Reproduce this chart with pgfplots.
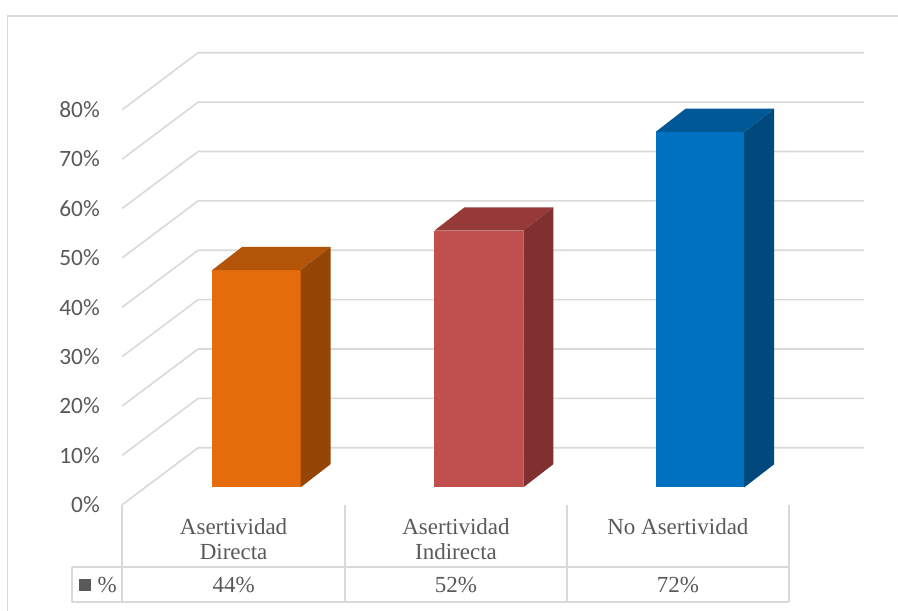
\documentclass[border=0pt]{standalone}
\usepackage{fontspec}
\setmainfont{Liberation Serif}
\newfontfamily\carlito{Carlito}
\usepackage{pgfplots}
\pgfplotsset{compat=1.18}
\definecolor{gridc}{RGB}{217,217,217}
\definecolor{txt}{RGB}{89,89,89}
\definecolor{orF}{RGB}{228,108,10}
\definecolor{orT}{RGB}{179,85,8}
\definecolor{orS}{RGB}{149,69,5}
\definecolor{reF}{RGB}{192,80,77}
\definecolor{reT}{RGB}{150,58,56}
\definecolor{reS}{RGB}{127,48,47}
\definecolor{blF}{RGB}{0,112,192}
\definecolor{blT}{RGB}{0,88,150}
\definecolor{blS}{RGB}{0,73,125}
\begin{document}
\begin{tikzpicture}
\begin{axis}[
  x=0.5pt, y=2.47pt,
  xmin=0, xmax=898, ymin=-24.96, ymax=98.72,
  axis line style={draw=none},
  no markers,
  xtick=\empty,
  ytick={-3.5,6.5,16.5,26.5,36.5,46.5,56.5,66.5,76.5},
  yticklabels={0\%,10\%,20\%,30\%,40\%,50\%,60\%,70\%,80\%},
  major tick length=0pt,
  yticklabel style={anchor=east, inner xsep=0pt, xshift=50pt, font=\carlito\fontsize{11.7}{14}\selectfont, text=txt},
  /pgf/number format/assume math mode=true,
]
% outer border
\addplot[gridc, line width=0.7pt] coordinates {(7.5,-30) (7.5,95.49) (905,95.49)};
% grid lines (side wall + back wall)
\foreach \k in {0,10,20,30,40,50,60,70,80}{
  \edef\temp{\noexpand\addplot[gridc, line width=0.8pt] coordinates {(122,\k-3.5) (198,\k+8.04) (864,\k+8.04)};}
  \temp
}
% bars: front faces from the values
\addplot[ybar, bar width=88.5, bar shift=0pt, fill=orF, draw=none] coordinates {(256.2,44)};
\addplot[ybar, bar width=89, bar shift=0pt, fill=reF, draw=none] coordinates {(478.8,52)};
\addplot[ybar, bar width=88.6, bar shift=0pt, fill=blF, draw=none] coordinates {(700,72)};
% top faces
\addplot[fill=orT, draw=none] coordinates {(211.95,44) (300.45,44) (330.45,48.7) (241.95,48.7)} -- cycle;
\addplot[fill=reT, draw=none] coordinates {(434.3,52) (523.3,52) (553.3,56.7) (464.3,56.7)} -- cycle;
\addplot[fill=blT, draw=none] coordinates {(655.7,72) (744.3,72) (774.3,76.7) (685.7,76.7)} -- cycle;
% side faces
\addplot[fill=orS, draw=none] coordinates {(300.45,0) (330.45,4.7) (330.45,48.7) (300.45,44)} -- cycle;
\addplot[fill=reS, draw=none] coordinates {(523.3,0) (553.3,4.7) (553.3,56.7) (523.3,52)} -- cycle;
\addplot[fill=blS, draw=none] coordinates {(744.3,0) (774.3,4.7) (774.3,76.7) (744.3,72)} -- cycle;
% data table
\addplot[gridc, line width=0.8pt] coordinates {(122,-3.5) (122,-23.24)};
\addplot[gridc, line width=0.8pt] coordinates {(345,-3.5) (345,-23.24)};
\addplot[gridc, line width=0.8pt] coordinates {(567,-3.5) (567,-23.24)};
\addplot[gridc, line width=0.8pt] coordinates {(789,-3.5) (789,-23.24)};
\addplot[gridc, line width=0.8pt] coordinates {(72,-16.15) (789,-16.15)};
\addplot[gridc, line width=0.8pt] coordinates {(72,-23.24) (789,-23.24)};
\addplot[gridc, line width=0.8pt] coordinates {(72,-16.15) (72,-23.24)};
% legend key
\addplot[fill=txt, draw=none] coordinates {(79,-18.5) (91,-18.5) (91,-20.9) (79,-20.9)} -- cycle;
\begin{scope}[every node/.style={text=txt, font=\fontsize{11.5}{13}\selectfont, inner sep=0pt}]
\node[anchor=base] at (axis cs:233.5,-9.57) {Asertividad};
\node[anchor=base] at (axis cs:233.5,-14.64) {Directa};
\node[anchor=base] at (axis cs:456,-9.57) {Asertividad};
\node[anchor=base] at (axis cs:456,-14.64) {Indirecta};
\node[anchor=base] at (axis cs:678,-9.57) {No Asertividad};
\node[anchor=base west] at (axis cs:97,-21.32) {\%};
\node[anchor=base] at (axis cs:233.5,-21.32) {44\%};
\node[anchor=base] at (axis cs:456,-21.32) {52\%};
\node[anchor=base] at (axis cs:678,-21.32) {72\%};
\end{scope}
\end{axis}
\end{tikzpicture}
\end{document}
